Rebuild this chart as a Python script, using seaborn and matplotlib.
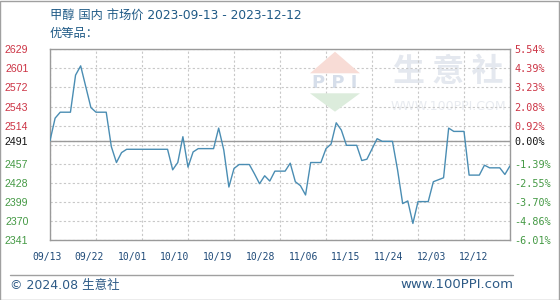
import numpy as np
import pandas as pd
import matplotlib
matplotlib.use("Agg")
import matplotlib.pyplot as plt
import matplotlib.dates as mdates
from matplotlib.patches import Polygon, Rectangle
from matplotlib.lines import Line2D
import seaborn as sns

# ---------------- data ----------------
start_date = "2023-09-13"
day_offsets = [0, 1, 2, 4, 5, 6, 8, 9, 11, 12, 13, 14, 15, 23, 24, 25, 26, 27, 28, 29,
               32, 33, 34, 35, 36, 37, 39, 40, 41, 42, 43, 44, 46, 47, 48, 49, 50, 51,
               53, 54, 55, 56, 57, 58, 60, 61, 62, 64, 65, 67, 68, 69, 70, 71, 72, 74,
               75, 76, 77, 78, 79, 81, 82, 84, 85, 86, 88, 89, 90]
prices = [2491, 2525, 2534, 2534, 2590, 2604, 2541, 2534, 2534, 2482, 2458, 2473, 2478,
          2478, 2447, 2458, 2497, 2451, 2474, 2479, 2479, 2510, 2477, 2421, 2449, 2455,
          2455, 2441, 2426, 2438, 2430, 2445, 2445, 2457, 2429, 2423, 2409, 2458, 2458,
          2479, 2486, 2518, 2507, 2484, 2484, 2461, 2463, 2494, 2490, 2490, 2447, 2396,
          2400, 2366, 2399, 2399, 2429, 2432, 2435, 2510, 2505, 2505, 2439, 2439, 2454,
          2450, 2450, 2440, 2453]
base_price = 2491
y_ticks = [2341, 2369.8, 2398.6, 2427.4, 2456.2, 2491, 2513.8, 2542.6, 2571.4, 2600.2, 2629]
left_labels = ["2341", "2370", "2399", "2428", "2457", "2491", "2514", "2543", "2572", "2601", "2629"]
right_labels = ["-6.01%", "-4.86%", "-3.70%", "-2.55%", "-1.39%", "0.00%", "0.92%", "2.08%",
                "3.23%", "4.39%", "5.54%"]
x_labels = ["09/13", "09/22", "10/01", "10/10", "10/19", "10/28", "11/06", "11/15",
            "11/24", "12/03", "12/12"]
title_line1 = "甲醇 国内 市场价 2023-09-13 - 2023-12-12"
title_line2 = "优等品："
footer_left = "© 2024.08 生意社"
footer_right = "www.100PPI.com"

dates = pd.to_datetime(start_date) + pd.to_timedelta(day_offsets, unit="D")
df = pd.DataFrame({"date": dates, "price": prices})

# ---------------- style ----------------
sns.set_style("white")
plt.rcParams["font.family"] = ["Noto Sans CJK SC", "DejaVu Sans"]

W, H = 560, 300
fig = plt.figure(figsize=(W / 100, H / 100), dpi=100)
fig.patch.set_facecolor("white")

def fx(px):
    return px / W

def fy(py):
    return 1 - py / H

L, R, T, B = 50, 510, 49.3, 240
ax = fig.add_axes([fx(L), fy(B), (R - L) / W, (B - T) / H])
ax.set_facecolor("white")

# watermark (behind line)
wm_kw = dict(transform=fig.transFigure, zorder=0)
fig.patches.append(Polygon([[fx(310), fy(73.3)], [fx(360), fy(73.3)], [fx(335), fy(51.7)]],
                           closed=True, facecolor="#f8dcd6", edgecolor="none", **wm_kw))
fig.patches.append(Polygon([[fx(310), fy(93.3)], [fx(360), fy(93.3)], [fx(335), fy(111.7)]],
                           closed=True, facecolor="#dcecdc", edgecolor="none", **wm_kw))
ax.text(fx(335), fy(83), "P P I", transform=fig.transFigure, ha="center", va="center",
        fontsize=13, color="#d6deea", family="DejaVu Sans", fontweight="bold", zorder=0.5)
ax.text(fx(448), fy(72), "生 意 社", transform=fig.transFigure, ha="center", va="center",
        fontsize=23, color="#e4e8ef", family="Noto Sans CJK SC", fontweight="bold", zorder=0.5)
ax.text(fx(448), fy(106.5), "WWW.100PPI.COM", transform=fig.transFigure, ha="center",
        va="center", fontsize=9, color="#e8ebf0", family="DejaVu Sans", zorder=0.5)

start = pd.to_datetime(start_date)
end = start + pd.Timedelta(days=90)
grid_dates = [start + pd.Timedelta(days=9 * i) for i in range(11)]

ax.set_xlim(start, end)
ax.set_ylim(y_ticks[0], y_ticks[-1])
ax.set_xticks(grid_dates)
ax.set_xticklabels([""] * len(grid_dates))
ax.set_yticks(y_ticks)
ax.set_yticklabels(left_labels)
ax.grid(True, color="#c8c8c8", linestyle=(0, (2, 2)), linewidth=0.8)
ax.axhline(2485.0, color="#c8c8c8", linestyle=(0, (2, 2)), linewidth=0.8, zorder=1)
ax.axhline(base_price, color="#9a9a9a", linewidth=1.0, zorder=2)

sns.lineplot(data=df, x="date", y="price", ax=ax, color="#4a8db3", linewidth=1.0, zorder=3)
ax.set_xlabel("")
ax.set_ylabel("")

for s in ax.spines.values():
    s.set_color("#9a9a9a")
    s.set_linewidth(1.0)

ax.tick_params(axis="both", length=0)
ax.tick_params(axis="y", pad=15.5)

def lab_color(v):
    if abs(v - base_price) < 0.5:
        return "#111111"
    return "#cc3344" if v > base_price else "#449944"

for lbl, v in zip(ax.get_yticklabels(), y_ticks):
    lbl.set_color(lab_color(v))
    lbl.set_fontsize(7.6)
    lbl.set_family(["Liberation Sans"])

ax2 = ax.twinx()
ax2.set_ylim(ax.get_ylim())
ax2.set_yticks(y_ticks)
ax2.set_yticklabels(right_labels)
ax2.tick_params(axis="y", length=0, pad=3)
for s in ax2.spines.values():
    s.set_visible(False)
for lbl, v in zip(ax2.get_yticklabels(), y_ticks):
    lbl.set_color(lab_color(v))
    lbl.set_fontsize(7.3)
    lbl.set_family(["DejaVu Sans Mono"])

# x labels (placed slightly offset as in the reference)
for i, t in enumerate(x_labels):
    px = 46.7 + i * 42.73
    fig.text(fx(px), fy(257), t, ha="center", va="center", fontsize=7,
             family="DejaVu Sans Mono", color="#1f4a78")

# titles
fig.text(fx(50), fy(15), title_line1, ha="left", va="center", fontsize=8.8,
         color="#1f5a86", family=["DejaVu Sans", "Noto Sans CJK SC"])
fig.text(fx(50), fy(33), title_line2, ha="left", va="center", fontsize=8.8,
         color="#1f5a86", family=["DejaVu Sans", "Noto Sans CJK SC"])

# footer
fig.add_artist(Line2D([fx(10), fx(513)], [fy(275), fy(275)], color="#a0a0a0", linewidth=1.0))
fig.text(fx(10), fy(285), footer_left, ha="left", va="center", fontsize=9, color="#2d5a86",
         family=["DejaVu Sans", "Noto Sans CJK SC"])
fig.text(fx(513), fy(285), footer_right, ha="right", va="center", fontsize=9.5,
         color="#2d5a86", family=["DejaVu Sans"])

# outer border
fig.patches.append(Rectangle((0.0, 0.0), 1 - 1 / W, 1 - 1 / H, transform=fig.transFigure,
                             fill=False, edgecolor="#a0a0a0", linewidth=1.0))

fig.savefig("out.png", dpi=100)
